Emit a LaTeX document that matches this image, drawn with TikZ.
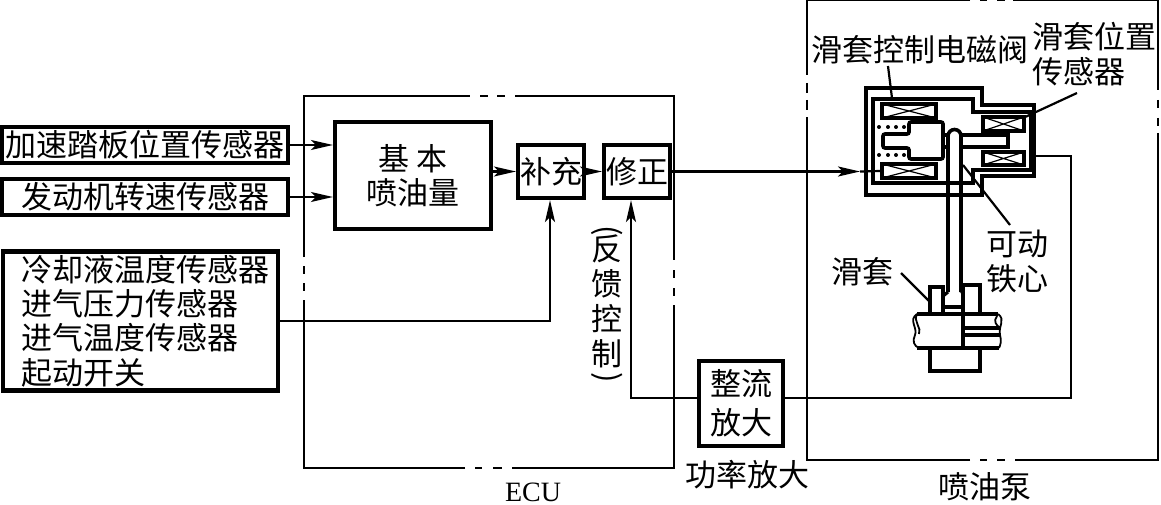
\documentclass[tikz,border=0pt]{standalone}
\usepackage{fontspec}
\usetikzlibrary{arrows.meta,calc}
\newfontfamily\cjk{Noto Sans CJK SC}
\newfontfamily\latinserif{Liberation Serif}
\newcommand{\sidebracket}[1]{\rotatebox[origin=c]{-90}{#1}}
\tikzset{
    blocktext/.style={font=\cjk\fontsize{31}{34.3}\selectfont,inner sep=0pt},
    thickbox/.style={blocktext,draw,line width=4.2pt,fill=white,align=center},
    sigline/.style={line width=2.2pt},
    sigarrow/.style={sigline,-{Stealth[length=22pt,width=10pt,inset=5pt]}},
    framerule/.style={line width=2.2pt},
    valverule/.style={line width=3.6pt,line join=miter},
    pumprule/.style={line width=3.2pt},
    coilbox/.style={draw,line width=3.2pt,inner sep=0pt,
        path picture={\draw[line width=1.2pt]
            (path picture bounding box.north west) -- (path picture bounding box.south east)
            (path picture bounding box.south west) -- (path picture bounding box.north east);}},
}
\begin{document}
\begin{tikzpicture}[x=1pt,y=-1pt]
        \useasboundingbox (0,0) rectangle (1161,505);
        \draw[framerule] (304,257) -- (304,96) -- (470,96) (515,96) -- (674,96) -- (674,260)
            (674,305) -- (674,468) -- (512,468) (465,468) -- (304,468) -- (304,300);
        \draw[framerule] (480,96) -- (488,96) (497,96) -- (505,96)
            (674,270) -- (674,278) (674,288) -- (674,296)
            (475,468) -- (482,468) (493,468) -- (502,468)
            (304,266) -- (304,274) (304,283) -- (304,291);
        \draw[framerule] (807,75) -- (807,0) (970,0) -- (807,0) (1013,0) -- (1158,0) -- (1158,90)
            (1158,133) -- (1158,460) -- (1015,460) (970,460) -- (807,460) -- (807,117);
        \draw[framerule] (807,83) -- (807,93) (807,100) -- (807,110)
            (1158,100) -- (1158,108) (1158,118) -- (1158,126)
            (980,460) -- (987,460) (997,460) -- (1005,460)
            (980,0) -- (987,0) (997,0) -- (1005,0);

        \node[thickbox,minimum width=286pt,minimum height=36pt] (accel) at (145,145) {加速踏板位置传感器};
        \node[thickbox,minimum width=286pt,minimum height=36pt] (speed) at (145,197) {发动机转速传感器};
        \node[thickbox,align=left,minimum width=275pt,minimum height=139pt,text width=254pt] (senses) at (140.5,321)
            {\hspace*{8pt}冷却液温度传感器\\\hspace*{8pt}进气压力传感器\\\hspace*{8pt}进气温度传感器\\\hspace*{8pt}起动开关};
        \node[thickbox,minimum width=156pt,minimum height=107pt] (basic) at (413,175.5) {基 本\\喷油量};
        \node[thickbox,minimum width=66pt,minimum height=53pt] (fill) at (551,171.5) {补充};
        \node[thickbox,minimum width=66pt,minimum height=53pt] (fix) at (637,171.5) {修正};
        \node[thickbox,minimum width=84pt,minimum height=85pt,font=\cjk\fontsize{31}{39}\selectfont] (rect) at (741,403.5) {整流\\放大};

        \node[blocktext] (fbklabel) at (607,306) [align=center,font=\cjk\fontsize{31}{35}\selectfont]
            {\sidebracket{(}\\[-14pt]反\\馈\\控\\制\\[-14pt]\sidebracket{)}};
        \node[blocktext] (powerlabel) at (747,475) {功率放大};
        \node[font=\latinserif\fontsize{28}{30}\selectfont,inner sep=0pt] (eculabel) at (533,492) {ECU};
        \node[blocktext] (pumplabel) at (985,487) {喷油泵};
        \node[blocktext] (valvelabel) at (920,50) {滑套控制电磁阀};
        \node[blocktext,align=left] (poslabel) at (1094,54) {滑套位置\\传感器};
        \node[blocktext,align=center] (corelabel) at (1017,261.5) {可动\\铁心};
        \node[blocktext] (sleevelabel) at (862,272) {滑套};

        \draw[valverule,fill=white] (943,135) -- (1008,135) -- (1008,147) -- (943,147);
        \draw[valverule,fill=white] (948,292) -- (948,136) arc[start angle=180,end angle=0,radius=6.5pt] -- (961,292);
        \draw[valverule] (866,88) -- (982,88) -- (982,105) -- (1034,105) -- (1034,176)
            -- (982,176) -- (982,195) -- (866,195) -- cycle;
        \draw[valverule] (873,99) -- (973,99) -- (973,112) -- (1031,112) -- (1031,170)
            -- (973,170) -- (973,183) -- (873,183) -- cycle;
        \draw[valverule,rounded corners=2pt] (883,134) -- (909,134) -- (909,122) -- (943,122)
            -- (943,159) -- (909,159) -- (909,148) -- (883,148) -- cycle;
        \node[coilbox,minimum width=54pt,minimum height=14pt] (coila) at (909,111) {};
        \node[coilbox,minimum width=54pt,minimum height=14pt] (coilb) at (909,171) {};
        \node[coilbox,minimum width=41pt,minimum height=14pt] (coilc) at (1003.5,124) {};
        \node[coilbox,minimum width=41pt,minimum height=13pt] (coild) at (1003.5,158.5) {};
        \foreach \x in {879,888,896,904} {
            \fill (\x,127) circle(2pt);
            \fill (\x,155) circle(2pt);
        }

        \draw[pumprule] (930,314) -- (930,287) -- (943,287) -- (943,314);
        \draw[pumprule] (963,314) -- (963,285) -- (980,285) -- (980,314);
        \draw[pumprule] (943,307) -- (963,307);
        \draw[pumprule] (948,292) -- (943,296);
        \draw[pumprule] (961,290) -- (963,294);
        \draw[pumprule] (917,314) -- (998,314) (917,348) -- (999,348) (963,314) -- (963,348);
        \draw[pumprule] (963,328) -- (1000,328) (963,335) -- (1001,335);
        \draw[pumprule] (930,348) -- (930,371) -- (980,371) -- (980,348);
        \draw[line width=1.8pt] (917,314) .. controls (908,320) and (918,328) .. (915,335) .. controls (912,341) and (914,346) .. (919,348);
        \draw[line width=1.8pt] (917,314) .. controls (913,322) and (922,328) .. (919,334);
        \draw[line width=1.8pt] (998,314) .. controls (1006,320) and (998,326) .. (1000,335) .. controls (1002,341) and (1000,346) .. (999,348);
        \draw[line width=1.8pt] (997,316) .. controls (993,321) and (996,325) .. (1000,328);

        \coordinate (valvelead) at (892,98);
        \coordinate (valvefoot) at (888,66);
        \coordinate (poslead) at (1023,118);
        \coordinate (posfoot) at (1077,93);
        \coordinate (corelead) at (963,165);
        \coordinate (corefoot) at (1010,225);
        \coordinate (sleevelead) at (929,301);
        \coordinate (sleevefoot) at (901,273);
        \draw[sigline] (valvefoot) -- (valvelead);
        \draw[sigline] (posfoot) -- (poslead);
        \draw[sigline] (corefoot) -- (corelead);
        \draw[sigline] (sleevefoot) -- (sleevelead);

        \draw[sigarrow] (accel.east) -- (accel.east -| basic.west);
        \draw[sigarrow] (speed.east) -- (speed.east -| basic.west);
        \draw[sigarrow] (basic.east |- fill.west) -- (fill.west);
        \draw[sigarrow] (fill.east) -- (fix.west);

        \coordinate (valvetip) at (860,171.5);
        \draw[sigarrow] (fix.east) -- (valvetip);
        \draw[sigline] (valvetip) -- (coilb.west);

        \coordinate (sensturn) at (550,321);
        \draw[sigarrow] (senses.east) -- (sensturn) -- (sensturn |- fill.south);

        \coordinate (fbkturn) at (631,398);
        \draw[sigarrow] (rect.west |- fbkturn) -- (fbkturn) -- (fbkturn |- fix.south);

        \coordinate (posturn) at (1071,398);
        \coordinate (posend) at (1035,156);
        \draw[sigline] (rect.east |- posturn) -- (posturn) -- (posturn |- posend) -- (posend);
    \end{tikzpicture}
\end{document}
